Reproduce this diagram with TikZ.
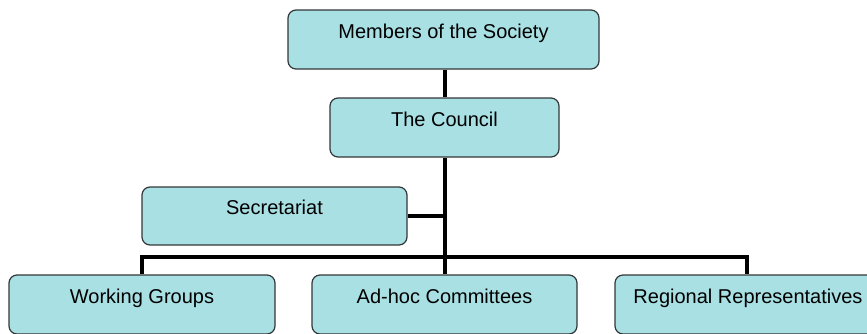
\documentclass[tikz,border=0pt]{standalone}
\usepackage{fontspec}
\setmainfont{Liberation Sans}
\definecolor{boxfill}{RGB}{168,224,228}
\definecolor{boxline}{RGB}{50,55,55}
\begin{document}
\begin{tikzpicture}[x=1pt,y=-1pt,
  orgbox/.style={draw=boxline, line width=1.2pt, fill=boxfill, rounded corners=8pt,
    minimum height=59pt, inner sep=0pt, text height=14pt, text depth=17pt,
    font=\fontsize{20}{24}\selectfont},
  link/.style={line width=4pt, black}]
\useasboundingbox (0,0) rectangle (867,333);
\node[orgbox, minimum width=311pt] (members) at (443.5,39.5) {Members of the Society};
\node[orgbox, minimum width=229pt] (council) at (444.5,127.5) {The Council};
\node[orgbox, minimum width=265pt, minimum height=58pt] (secr) at (274.5,216) {Secretariat};
\node[orgbox, minimum width=266pt] (wg) at (142,304.5) {Working Groups};
\node[orgbox, minimum width=265pt] (adhoc) at (444.5,304.5) {Ad-hoc Committees};
\node[orgbox, minimum width=266pt] (reg) at (748,304.5) {Regional Representatives};
\coordinate (hub) at (445,257);
\coordinate (sj) at (445,216);
\coordinate (lb) at (142,257);
\coordinate (rb) at (747,257);
\draw[link] (members.south -| hub) -- (council.north -| hub);
\draw[link] (council.south -| hub) -- (hub);
\draw[link] (secr.east) -- (sj);
\draw[link, line cap=rect] (lb) -- (rb);
\draw[link] (lb) -- (wg.north -| lb);
\draw[link] (hub) -- (adhoc.north -| hub);
\draw[link] (rb) -- (reg.north -| rb);
\end{tikzpicture}
\end{document}
